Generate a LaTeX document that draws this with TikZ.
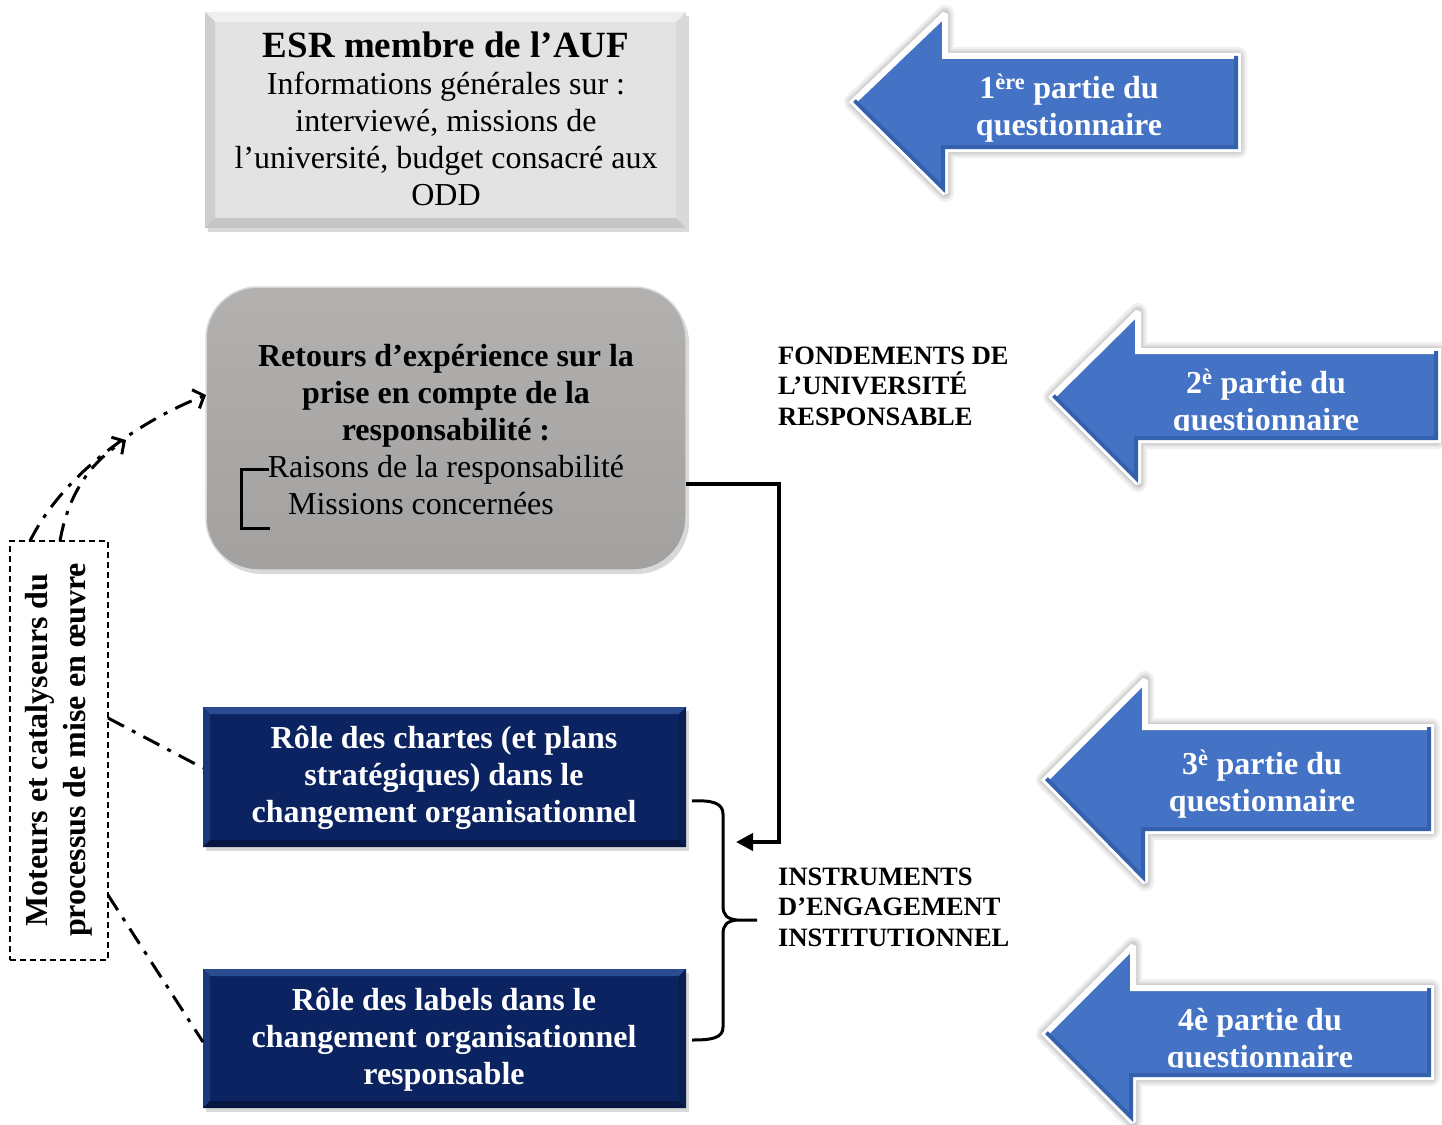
\documentclass[tikz,border=0pt]{standalone}
\usepackage{fontspec}
\setmainfont{Liberation Serif}
\usetikzlibrary{arrows.meta,shadows,calc}
\definecolor{navyface}{HTML}{0B2461}
\definecolor{navytop}{HTML}{2C4C92}
\definecolor{navyleft}{HTML}{1A3778}
\definecolor{navyright}{HTML}{081D50}
\definecolor{navybot}{HTML}{061640}
\definecolor{lgface}{HTML}{E3E3E3}
\definecolor{lgtop}{HTML}{EFEFEF}
\definecolor{lgleft}{HTML}{CECECE}
\definecolor{lgright}{HTML}{D9D9D9}
\definecolor{lgbot}{HTML}{C6C6C6}
\definecolor{graytop}{HTML}{B3B1B0}
\definecolor{graybot}{HTML}{A3A1A0}
\definecolor{arrblue}{HTML}{4472C4}
\definecolor{arrdark}{HTML}{3560AE}
\newcommand\bevelframe[9]{%
  \fill[#6] (#1,#2) -- (#3,#2) -- ({#3-#5},{#2+#5}) -- ({#1+#5},{#2+#5}) -- cycle;
  \fill[#7] (#1,#2) -- ({#1+#5},{#2+#5}) -- ({#1+#5},{#4-#5}) -- (#1,#4) -- cycle;
  \fill[#8] (#3,#2) -- (#3,#4) -- ({#3-#5},{#4-#5}) -- ({#3-#5},{#2+#5}) -- cycle;
  \fill[#9] (#1,#4) -- (#3,#4) -- ({#3-#5},{#4-#5}) -- ({#1+#5},{#4-#5}) -- cycle;}
\newcommand\qarrow[8]{%
  \path[qarrowsty] (#1,#2) -- (#3,#4) -- (#3,#7) -- (#6,#7) -- (#6,#8) -- (#3,#8) -- (#3,#5) -- cycle;
  \begin{scope}
    \clip (#1,#2) -- (#3,#4) -- (#3,#7) -- (#6,#7) -- (#6,#8) -- (#3,#8) -- (#3,#5) -- cycle;
    \draw[arrdark,line width=8pt] (#1,#2) -- (#3,#5) -- (#3,#8) -- (#6,#8) -- (#6,#7);
  \end{scope}}
\begin{document}
\begin{tikzpicture}[x=1pt,y=-1pt,
  boxshadow/.style={drop shadow={shadow xshift=3pt,shadow yshift=-4pt,opacity=0.3}},
  plainbox/.style={rectangle,inner sep=0pt,outer sep=0pt},
  body/.style={font=\fontsize{32}{37}\selectfont,align=center,inner sep=0pt},
  bodyb/.style={font=\fontsize{32}{37}\selectfont\bfseries,align=center,inner sep=0pt},
  whitetxt/.style={bodyb,text=white},
  caplabel/.style={font=\fontsize{26.5}{30.5}\selectfont\bfseries,align=left,inner sep=0pt,anchor=west},
  dashdot/.style={line width=3pt,dash pattern=on 18pt off 9pt on 4pt off 9pt},
  qarrowsty/.style={draw=white,line width=6pt,line join=miter,miter limit=2.2,fill=arrblue,
    preaction={draw=black,opacity=0.06,line width=18pt,line join=round},
    preaction={draw=black,opacity=0.07,line width=13pt,line join=round},
    preaction={draw=black,opacity=0.08,line width=9pt,line join=round}},
]
\useasboundingbox (0,0) rectangle (1442,1124);

% top box
\node[plainbox,fill=lgface,boxshadow,minimum width=481pt,minimum height=216pt] (esrbox) at (445.5,120) {};
\bevelframe{205}{12}{686}{228}{10}{lgtop}{lgleft}{lgright}{lgbot}
\node[body] (esrtxt) at (446,119) {{\fontsize{37}{37}\selectfont\bfseries ESR membre de l’AUF}\\Informations générales sur :\\interviewé, missions de\\l’université, budget consacré aux\\ODD};

% gray rounded box
\node[plainbox,rounded corners=52pt,top color=graytop,bottom color=graybot,draw=graytop!50!white,line width=1.5pt,boxshadow,minimum width=480pt,minimum height=283pt] (retbox) at (446,428.5) {};
\node[body] (rettxt) at (446,414) {\textbf{Retours d’expérience sur la}\\\textbf{prise en compte de la}\\\textbf{responsabilité :}\\Raisons de la responsabilité};
\node[body,anchor=base] (mistxt) at (421,514) {Missions concernées};
\draw[line width=3pt] (269,469) -- (241,469) -- (241,528) -- (270,528);

% blue boxes
\node[plainbox,fill=navyface,boxshadow,minimum width=483pt,minimum height=140pt] (chbox) at (444.5,777) {};
\bevelframe{203}{707}{686}{847}{7}{navytop}{navyleft}{navyright}{navybot}
\node[whitetxt] (chtxt) at (444,778) {Rôle des chartes (et plans\\stratégiques) dans le\\changement organisationnel};

\node[plainbox,fill=navyface,boxshadow,minimum width=483pt,minimum height=139pt] (lbbox) at (444.5,1038.5) {};
\bevelframe{203}{969}{686}{1108}{7}{navytop}{navyleft}{navyright}{navybot}
\node[whitetxt] (lbtxt) at (444,1040) {Rôle des labels dans le\\changement organisationnel\\responsable};

% dashed box
\node[plainbox,draw,line width=1.1pt,dash pattern=on 6pt off 4pt,minimum width=98pt,minimum height=419pt] (dbox) at (59,750.5) {};
\node[rotate=90,font=\fontsize{32}{38}\selectfont\bfseries,align=center,inner sep=0pt] (dtxt) at (59,750) {Moteurs et catalyseurs du\\processus de mise en œuvre};

% labels
\node[caplabel] (fond) at (778,386) {FONDEMENTS DE\\L’UNIVERSITÉ\\RESPONSABLE};
\node[caplabel] (instr) at (778,907) {INSTRUMENTS\\D’ENGAGEMENT\\INSTITUTIONNEL};

% big arrows
\qarrow{853}{102}{945}{14}{193}{1238}{56}{149}
\qarrow{1052}{397}{1138}{312}{483}{1438}{351}{440}
\qarrow{1045}{780}{1145}{680}{882}{1431}{727}{831}
\qarrow{1045}{1034}{1133}{946}{1122}{1431}{988}{1077}
\begin{scope}\clip (945,64) rectangle (1228,142);
\node[whitetxt] (q1) at (1069,108.5) {1\textsuperscript{ère} partie du\\questionnaire};
\end{scope}
\begin{scope}\clip (1138,360) rectangle (1428,430);
\node[whitetxt] (q2) at (1266,403) {2\textsuperscript{è} partie du\\questionnaire};
\end{scope}
\begin{scope}\clip (1145,736) rectangle (1421,823);
\node[whitetxt] (q3) at (1262,784) {3\textsuperscript{è} partie du\\questionnaire};
\end{scope}
\begin{scope}\clip (1133,997) rectangle (1421,1067);
\node[whitetxt] (q4) at (1260,1041) {4è partie du\\questionnaire};
\end{scope}

% elbow connector
\coordinate (ylev) at (0,484);
\coordinate (instrin) at (736,842);
\draw[line width=4pt,line join=miter,-{Triangle[length=17pt,width=17pt]}] (retbox.east |- ylev) -- (779,484) -- (779,842) -- (instrin);

% brace
\coordinate (brtop) at (692,801);
\coordinate (brbot) at (692,1040);
\coordinate (brtip) at (757,920);
\draw[line width=3pt] (brtop) .. controls (712,800) and (723,803) .. (723,814) -- (723,906)
  .. controls (723,915) and (727,919) .. (737,920) -- (brtip)
  (737,920) .. controls (727,921) and (723,925) .. (723,934) -- (723,1027)
  .. controls (723,1038) and (712,1040) .. (brbot);

% dash-dot connectors
\coordinate (a1y) at (0,395);
\coordinate (a2end) at (126,440);
\draw[dashdot,-{Straight Barb[length=9pt,width=20pt]}] ($(dbox.north west)+(20,0)$) .. controls (60,480) and (130,425) .. (retbox.west |- a1y);
\draw[dashdot,-{Straight Barb[length=9pt,width=20pt]}] ($(dbox.north west)+(50,0)$) .. controls (68,495) and (90,462) .. (a2end);
\coordinate (l1s) at (0,718);
\coordinate (l1e) at (0,768);
\coordinate (l2s) at (0,895);
\coordinate (l2e) at (0,1042);
\draw[dashdot] (dbox.east |- l1s) -- (chbox.west |- l1e);
\draw[dashdot] (dbox.east |- l2s) -- (lbbox.west |- l2e);
\end{tikzpicture}
\end{document}
